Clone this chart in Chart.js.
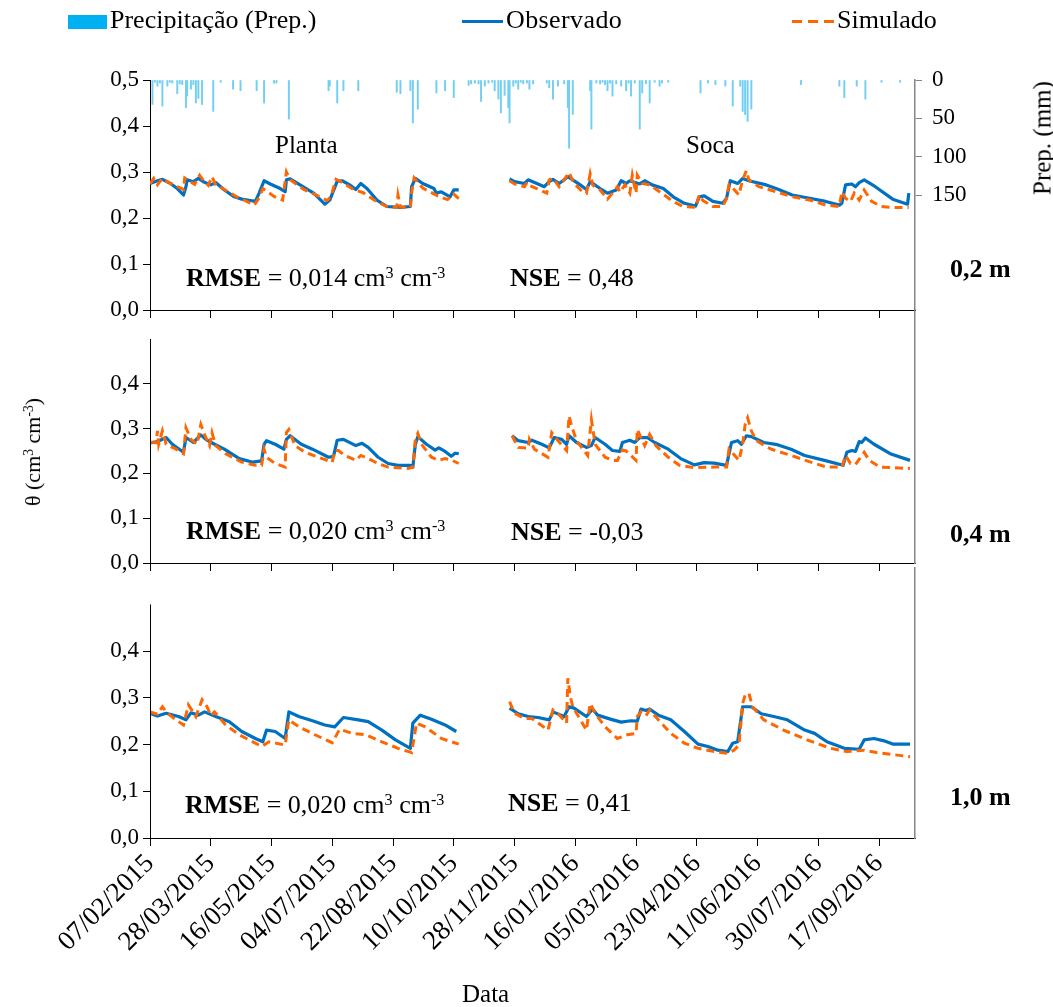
<!DOCTYPE html>
<html><head><meta charset="utf-8">
<script src="https://cdn.jsdelivr.net/npm/chart.js@4.4.1/dist/chart.umd.min.js"></script>
<style>
body{margin:0;background:#fff;}
#wrap{position:relative;width:1053px;height:1007px;overflow:hidden;background:#fff;font-family:"Liberation Serif","Times New Roman",serif;color:#000;}
canvas{position:absolute;left:0;}
.t{position:absolute;white-space:nowrap;line-height:1;}
sup{font-size:0.62em;vertical-align:0.5em;line-height:0;}
</style></head>
<body><div id="wrap">
<canvas id="c3" width="1053" height="459" style="top:548px"></canvas>
<canvas id="c2" width="1053" height="308" style="top:285px"></canvas>
<canvas id="c1" width="1053" height="340" style="top:0px"></canvas>

<div class="t" style="left:68px;top:15px;width:39px;height:14px;background:#00B0F0"></div>
<div class="t" style="left:110px;top:7px;font-size:26px">Precipitação (Prep.)</div>
<div class="t" style="left:462px;top:20px;width:41px;height:3px;background:#0070C0"></div>
<div class="t" style="left:506px;top:7px;font-size:26px;letter-spacing:0.4px">Observado</div>
<div class="t" style="left:792px;top:20px;width:42px;height:3px;background:repeating-linear-gradient(to right,#FF6600 0 10px,transparent 10px 16px)"></div>
<div class="t" style="left:837px;top:7px;font-size:26px">Simulado</div>

<div class="t" style="left:275px;top:132px;font-size:25px">Planta</div>
<div class="t" style="left:686px;top:132px;font-size:25px">Soca</div>

<div class="t" style="left:186px;top:265px;font-size:26px"><b>RMSE</b> = 0,014 cm<sup>3</sup> cm<sup>-3</sup></div>
<div class="t" style="left:510px;top:265px;font-size:26px"><b>NSE</b> = 0,48</div>
<div class="t" style="left:186px;top:518px;font-size:26px"><b>RMSE</b> = 0,020 cm<sup>3</sup> cm<sup>-3</sup></div>
<div class="t" style="left:511px;top:519px;font-size:26px"><b>NSE</b> = -0,03</div>
<div class="t" style="left:185px;top:792px;font-size:26px"><b>RMSE</b> = 0,020 cm<sup>3</sup> cm<sup>-3</sup></div>
<div class="t" style="left:508px;top:790px;font-size:26px"><b>NSE</b> = 0,41</div>

<div class="t" style="left:950px;top:256px;font-size:26px;font-weight:bold">0,2 m</div>
<div class="t" style="left:950px;top:521px;font-size:26px;font-weight:bold">0,4 m</div>
<div class="t" style="left:950px;top:784px;font-size:26px;font-weight:bold">1,0 m</div>

<div class="t" style="left:33px;top:452px;font-size:22px;transform:translate(-50%,-50%) rotate(-90deg)">θ (cm<sup>3</sup> cm<sup>-3</sup>)</div>
<div class="t" style="left:1042px;top:138px;font-size:25px;transform:translate(-50%,-50%) rotate(-90deg)">Prep. (mm)</div>
<div class="t" style="left:462px;top:981px;font-size:25px">Data</div>
</div>
<script>
// ---------- data ----------
const tickLabels = ['07/02/2015','28/03/2015','16/05/2015','04/07/2015','22/08/2015','10/10/2015','28/11/2015','16/01/2016','05/03/2016','23/04/2016','11/06/2016','30/07/2016','17/09/2016'];
const tickStepDays = 49;           // days between date labels (day 0 = 07/02/2015)
const lastDay = 617;
const thetaTicks = [0, 0.1, 0.2, 0.3, 0.4, 0.5];
const prepTicks = [0, 50, 100, 150];

// precipitation [day, mm]
const precip = [[2,32],[4,3],[6,8],[8,4],[10,34],[14,8],[16,3],[18,4],[22,18],[24,5],[26,6],[29,36],[30,21],[33,12],[35,6],[37,30],[39,24],[42,32],[51,41],[57,3],[67,12],[73,14],[86,14],[92,30],[100,4],[102,4],[112,51],[144,14],[145,8],[151,30],[156,14],[168,14],[199,16],[202,18],[210,14],[212,56],[216,38],[231,17],[238,14],[245,23],[257,7],
[259,5],[262,4],[265,5],[267,28],[270,8],[273,4],[276,3],[278,14],[281,25],[283,43],[286,20],[289,36],[290,56],[293,8],[295,4],[297,12],[299,3],[301,5],[304,4],[306,12],[309,5],[320,4],[322,10],[325,25],[329,8],[334,5],[337,36],[338,89],[341,45],[355,14],[356,64],[360,4],[363,5],[365,3],[367,6],[369,14],[371,4],[373,21],[376,5],[380,8],[384,14],[386,4],[388,21],[391,4],[395,64],[397,17],[400,5],[403,30],[407,3],[411,8],[413,4],[418,3],[444,17],[450,4],[456,6],[464,8],[470,34],[476,8],[478,41],[480,45],[482,54],[485,38],[525,6],[556,8],[560,23],[570,8],[577,25],[590,3],[605,3]];

// 0,2 m  [day, theta]
const obs02Planta = [[0,0.275],[6,0.281],[10,0.284],[17,0.274],[22,0.264],[27,0.250],[29,0.268],[30,0.283],[35,0.279],[39,0.286],[43,0.279],[49,0.272],[53,0.277],[60,0.261],[68,0.246],[74,0.241],[81,0.238],[85,0.236],[88,0.254],[92,0.281],[97,0.274],[105,0.264],[109,0.257],[110,0.283],[113,0.285],[121,0.272],[132,0.254],[141,0.230],[145,0.239],[151,0.280],[155,0.281],[161,0.272],[166,0.262],[170,0.275],[175,0.264],[183,0.239],[191,0.225],[202,0.223],[210,0.225],[211,0.268],[214,0.286],[220,0.275],[229,0.264],[231,0.254],[235,0.257],[242,0.246],[245,0.261],[249,0.261]];
const sim02Planta = [[0,0.274],[3,0.286],[6,0.272],[10,0.286],[14,0.279],[22,0.268],[27,0.262],[28,0.287],[31,0.282],[36,0.273],[40,0.293],[43,0.282],[47,0.271],[50,0.290],[53,0.272],[60,0.262],[70,0.246],[78,0.236],[84,0.228],[88,0.244],[91,0.264],[100,0.247],[107,0.239],[110,0.300],[113,0.283],[124,0.262],[134,0.250],[143,0.238],[146,0.247],[150,0.284],[156,0.276],[164,0.262],[172,0.255],[182,0.237],[191,0.225],[199,0.223],[200,0.250],[202,0.224],[210,0.223],[211,0.255],[213,0.287],[220,0.265],[232,0.248],[240,0.240],[245,0.252],[249,0.242]];
const obs02Soca = [[290,0.285],[294,0.279],[302,0.275],[305,0.283],[312,0.275],[318,0.268],[322,0.279],[325,0.284],[330,0.275],[334,0.283],[337,0.290],[347,0.272],[352,0.262],[355,0.279],[363,0.264],[369,0.254],[376,0.261],[380,0.281],[384,0.275],[387,0.281],[395,0.274],[399,0.281],[405,0.272],[414,0.264],[422,0.246],[431,0.232],[440,0.226],[443,0.246],[447,0.248],[454,0.236],[462,0.232],[465,0.243],[468,0.281],[474,0.275],[478,0.286],[483,0.281],[497,0.272],[505,0.264],[518,0.250],[532,0.243],[545,0.236],[556,0.228],[558,0.232],[561,0.272],[566,0.274],[569,0.268],[572,0.277],[576,0.283],[585,0.268],[599,0.241],[611,0.230],[612,0.254]];
const sim02Soca = [[290,0.281],[294,0.274],[302,0.268],[304,0.277],[305,0.272],[312,0.264],[320,0.254],[322,0.283],[325,0.286],[330,0.268],[333,0.279],[338,0.299],[342,0.275],[349,0.257],[352,0.254],[355,0.296],[357,0.272],[363,0.261],[369,0.241],[373,0.254],[377,0.268],[379,0.256],[383,0.272],[387,0.254],[389,0.293],[392,0.254],[393,0.293],[397,0.275],[403,0.272],[411,0.257],[422,0.236],[430,0.225],[440,0.223],[443,0.250],[446,0.238],[454,0.225],[462,0.225],[465,0.243],[467,0.272],[469,0.268],[475,0.250],[478,0.283],[481,0.303],[483,0.283],[491,0.268],[505,0.257],[518,0.246],[532,0.239],[545,0.228],[556,0.225],[558,0.257],[561,0.243],[565,0.236],[568,0.254],[572,0.239],[576,0.261],[582,0.236],[590,0.225],[599,0.223],[612,0.223]];

// 0,4 m
const obs04Planta = [[0,0.268],[6,0.271],[13,0.280],[18,0.265],[27,0.247],[29,0.280],[35,0.269],[41,0.286],[45,0.276],[52,0.265],[60,0.254],[72,0.233],[83,0.225],[90,0.228],[92,0.265],[94,0.273],[101,0.265],[108,0.254],[110,0.276],[113,0.284],[122,0.265],[131,0.254],[144,0.236],[148,0.238],[151,0.274],[156,0.276],[166,0.262],[171,0.267],[176,0.258],[184,0.236],[192,0.222],[200,0.218],[210,0.218],[212,0.214],[214,0.265],[216,0.282],[223,0.265],[230,0.252],[233,0.257],[238,0.249],[243,0.238],[246,0.245],[249,0.244]];
const sim04Planta = [[0,0.270],[5,0.268],[6,0.295],[7,0.265],[10,0.295],[13,0.265],[21,0.254],[27,0.244],[29,0.302],[33,0.276],[38,0.265],[41,0.309],[45,0.280],[48,0.262],[50,0.291],[53,0.262],[61,0.244],[74,0.225],[85,0.218],[90,0.218],[92,0.254],[94,0.236],[101,0.222],[109,0.214],[110,0.291],[112,0.298],[117,0.262],[125,0.247],[136,0.236],[147,0.225],[149,0.251],[152,0.251],[157,0.240],[166,0.229],[170,0.240],[176,0.233],[184,0.222],[192,0.214],[208,0.211],[212,0.214],[214,0.276],[216,0.289],[219,0.265],[227,0.236],[233,0.229],[238,0.233],[243,0.230],[249,0.222]];
const obs04Soca = [[292,0.284],[297,0.273],[305,0.269],[308,0.274],[316,0.265],[322,0.257],[326,0.280],[332,0.276],[336,0.265],[338,0.284],[344,0.269],[352,0.258],[356,0.262],[359,0.280],[367,0.265],[373,0.251],[379,0.249],[381,0.269],[387,0.274],[391,0.269],[395,0.280],[401,0.280],[407,0.269],[418,0.254],[428,0.233],[439,0.219],[447,0.224],[455,0.223],[465,0.218],[469,0.269],[474,0.273],[477,0.265],[481,0.284],[485,0.282],[495,0.269],[506,0.264],[517,0.254],[528,0.240],[544,0.229],[559,0.218],[562,0.247],[566,0.251],[569,0.249],[572,0.271],[574,0.269],[577,0.279],[584,0.265],[597,0.244],[613,0.229]];
const sim04Soca = [[292,0.284],[297,0.258],[305,0.256],[306,0.276],[310,0.254],[321,0.236],[324,0.291],[329,0.273],[336,0.251],[338,0.328],[340,0.306],[344,0.273],[353,0.240],[356,0.320],[359,0.265],[367,0.236],[373,0.229],[377,0.229],[381,0.252],[384,0.250],[392,0.229],[393,0.298],[396,0.280],[399,0.262],[403,0.287],[408,0.262],[418,0.236],[427,0.218],[439,0.213],[455,0.214],[465,0.214],[467,0.254],[470,0.245],[475,0.229],[478,0.265],[480,0.309],[482,0.324],[485,0.295],[489,0.273],[501,0.254],[517,0.240],[533,0.225],[546,0.214],[558,0.214],[561,0.240],[565,0.222],[569,0.220],[576,0.247],[580,0.229],[589,0.214],[613,0.211]];

// 1,0 m
const obs10Planta = [[0,0.267],[6,0.261],[13,0.267],[23,0.260],[29,0.253],[33,0.268],[39,0.263],[44,0.270],[52,0.261],[64,0.249],[74,0.228],[85,0.213],[91,0.206],[94,0.231],[101,0.228],[109,0.213],[112,0.270],[120,0.260],[131,0.251],[141,0.242],[149,0.238],[156,0.258],[168,0.253],[176,0.249],[187,0.231],[198,0.210],[210,0.192],[212,0.246],[218,0.263],[227,0.254],[238,0.242],[247,0.228]];
const sim10Planta = [[0,0.270],[6,0.265],[10,0.281],[14,0.267],[21,0.253],[27,0.242],[31,0.285],[37,0.260],[42,0.296],[46,0.281],[49,0.262],[52,0.270],[61,0.242],[72,0.221],[85,0.203],[90,0.196],[96,0.206],[109,0.199],[112,0.253],[120,0.238],[133,0.221],[147,0.204],[153,0.233],[163,0.224],[174,0.221],[187,0.206],[200,0.192],[211,0.183],[215,0.246],[222,0.238],[235,0.213],[249,0.201]];
const obs10Soca = [[290,0.278],[297,0.266],[305,0.260],[313,0.258],[322,0.253],[325,0.270],[334,0.260],[338,0.281],[342,0.278],[352,0.260],[357,0.276],[361,0.263],[372,0.254],[380,0.248],[388,0.251],[393,0.250],[396,0.276],[400,0.273],[403,0.276],[410,0.263],[420,0.253],[431,0.228],[442,0.201],[450,0.196],[458,0.188],[466,0.185],[470,0.203],[474,0.206],[478,0.281],[485,0.281],[493,0.266],[503,0.260],[514,0.253],[528,0.231],[536,0.224],[546,0.206],[560,0.192],[572,0.190],[576,0.210],[584,0.213],[592,0.208],[599,0.201],[613,0.201]];
const sim10Soca = [[290,0.292],[294,0.267],[302,0.256],[308,0.256],[321,0.231],[325,0.274],[329,0.267],[336,0.246],[337,0.342],[339,0.303],[341,0.281],[352,0.231],[355,0.288],[359,0.267],[367,0.238],[377,0.213],[385,0.221],[392,0.224],[393,0.260],[396,0.270],[400,0.262],[403,0.274],[410,0.253],[420,0.224],[431,0.203],[442,0.192],[455,0.185],[466,0.181],[471,0.188],[475,0.199],[478,0.288],[480,0.306],[483,0.310],[486,0.281],[495,0.253],[511,0.231],[530,0.210],[549,0.192],[562,0.185],[576,0.188],[586,0.183],[613,0.174]];

// ---------- chart helpers ----------
const FONT = "'Liberation Serif','Times New Roman',serif";
Chart.defaults.font.family = FONT;
Chart.defaults.color = '#000';

function pts(a){ return a.map(p => ({x:p[0], y:p[1]})); }
function joined(a, b){ return pts(a).concat([{x:(a[a.length-1][0]+b[0][0])/2, y:null}], pts(b)); }
function lineSets(oA, oB, sA, sB){
  return [
    {type:'line', label:'Observado', data:joined(oA,oB), borderColor:'#0070C0', borderWidth:3.2, pointRadius:0, spanGaps:false, borderJoinStyle:'round', yAxisID:'y', order:1},
    {type:'line', label:'Simulado', data:joined(sA,sB), borderColor:'#FF6600', borderWidth:3, borderDash:[8,5], pointRadius:0, spanGaps:false, yAxisID:'y', order:0}
  ];
}
function fmt(v){ return v.toFixed(1).replace('.', ','); }
function xScale(showLabels, h){
  return {type:'linear', min:0, max:lastDay, offset:false, position:'bottom',
    afterBuildTicks: s => { s.ticks = tickLabels.map((_, i) => ({value:i*tickStepDays})); },
    ticks:{display:showLabels, autoSkip:false, maxRotation:45, minRotation:45, padding:2, font:{size:27}, color:'#000', callback:(v,i) => tickLabels[i]},
    grid:{display:true, drawOnChartArea:false, drawTicks:true, tickLength:8, color:'#000', offset:false},
    border:{display:true, color:'#000', width:1},
    afterFit: s => { s.height = h; }
  };
}
function yLeft(max, ticks, border){
  return {type:'linear', position:'left', min:0, max:max,
    afterBuildTicks: s => { s.ticks = ticks.map(v => ({value:v})); },
    ticks:{font:{size:23}, color:'#000', padding:4, callback:v => fmt(v)},
    grid:{drawOnChartArea:false, drawTicks:true, tickLength:7, color:'#000'},
    border:{display:border, color:'#000', width:1},
    afterFit: s => { s.width = 150; }
  };
}
const rightBorder = {type:'linear', position:'right', min:0, max:1,
  afterBuildTicks: s => { s.ticks = [{value:0}]; },
  ticks:{display:false}, grid:{drawOnChartArea:false, drawTicks:false, color:'#868686'},
  border:{display:true, color:'#868686', width:1.5},
  afterFit: s => { s.width = 138; }
};
const leftAxisLine = {
  id:'leftAxisLine',
  afterDraw(chart, args, opts){
    if (opts.from === undefined) return;
    const s = chart.scales.y, ctx = chart.ctx, x = Math.round(chart.chartArea.left) + 0.5;
    ctx.save(); ctx.strokeStyle = '#000'; ctx.lineWidth = 1;
    ctx.beginPath(); ctx.moveTo(x, s.getPixelForValue(opts.from)); ctx.lineTo(x, s.getPixelForValue(0)); ctx.stroke();
    ctx.restore();
  }
};
const baseOpts = {responsive:false, animation:false, events:[], plugins:{legend:{display:false}, tooltip:{enabled:false}}};

// panel 1 (0,2 m) with precipitation
new Chart(document.getElementById('c1'), {
  type:'line',
  data:{datasets:[
    {type:'bar', label:'Precipitação (Prep.)', data:pts(precip), yAxisID:'y2', backgroundColor:'#72cff3', barThickness:1.3, order:2},
    ...lineSets(obs02Planta, obs02Soca, sim02Planta, sim02Soca)
  ]},
  options:Object.assign({}, baseOpts, {
    layout:{padding:{top:80, left:0, right:0, bottom:0}},
    scales:{
      x: xScale(false, 30),
      y: yLeft(0.5, thetaTicks, true),
      y2: {type:'linear', position:'right', reverse:true, min:0, max:300,
        afterBuildTicks: s => { s.ticks = prepTicks.map(v => ({value:v})); },
        ticks:{font:{size:23}, color:'#000', padding:10},
        grid:{drawOnChartArea:false, drawTicks:true, tickLength:7, color:'#868686'},
        border:{display:true, color:'#868686', width:1.5},
        afterFit: s => { s.width = 138; }
      }
    }
  })
});

// panel 2 (0,4 m)
new Chart(document.getElementById('c2'), {
  type:'line',
  data:{datasets: lineSets(obs04Planta, obs04Soca, sim04Planta, sim04Soca)},
  options:Object.assign({}, baseOpts, {
    layout:{padding:{top:25, left:0, right:0, bottom:0}},
    plugins:{legend:{display:false}, tooltip:{enabled:false}, leftAxisLine:{from:0.5}},
    scales:{ x: xScale(false, 30), y: yLeft(0.5646, thetaTicks.slice(0,5), false), yr: rightBorder }
  }),
  plugins:[leftAxisLine]
});

// panel 3 (1,0 m)
new Chart(document.getElementById('c3'), {
  type:'line',
  data:{datasets: lineSets(obs10Planta, obs10Soca, sim10Planta, sim10Soca)},
  options:Object.assign({}, baseOpts, {
    layout:{padding:{top:20, left:0, right:0, bottom:0}},
    plugins:{legend:{display:false}, tooltip:{enabled:false}, leftAxisLine:{from:0.5}},
    scales:{ x: xScale(true, 169), y: yLeft(0.578, thetaTicks.slice(0,5), false), yr: Object.assign({}, rightBorder) }
  }),
  plugins:[leftAxisLine]
});
</script>
</body></html>
